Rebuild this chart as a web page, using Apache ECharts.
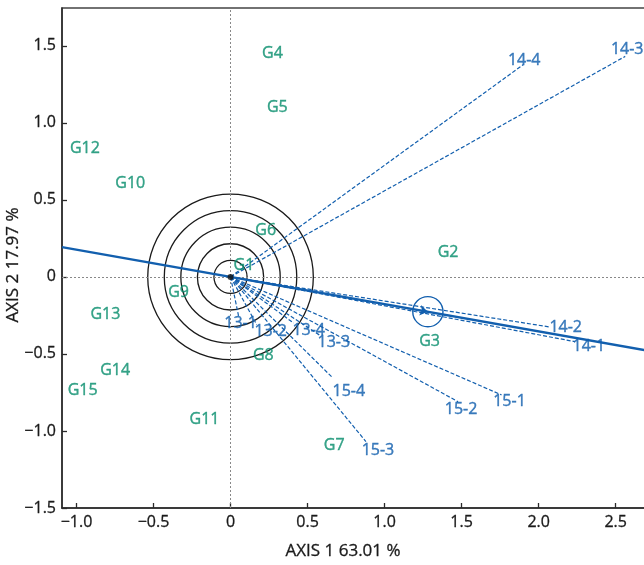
<!DOCTYPE html>
<html><head><meta charset="utf-8">
<script src="https://cdn.jsdelivr.net/npm/echarts@6/dist/echarts.min.js"></script>
<style>html,body{margin:0;padding:0;background:#fff}#c{width:644px;height:565px}</style>
</head><body><div id="c"></div>
<script>
// ---- data ----
const genotypes = ['G1','G2','G3','G4','G5','G6','G7','G8','G9','G10','G11','G12','G13','G14','G15'];
const genoX = [0.087, 1.412, 1.292, 0.272, 0.304, 0.228, 0.673, 0.213, -0.337, -0.651, -0.169, -0.945, -0.812, -0.749, -0.960];
const genoY = [0.071, 0.160, -0.420, 1.453, 1.099, 0.301, -1.091, -0.511, -0.102, 0.604, -0.922, 0.831, -0.242, -0.604, -0.740];

const environments = ['14-1','14-2','14-3','14-4','13-1','13-2','13-3','13-4','15-1','15-2','15-3','15-4'];
const envX = [2.235, 2.072, 2.562, 1.900, 0.052, 0.170, 0.586, 0.410, 1.759, 1.477, 0.879, 0.664];
const envY = [-0.420, -0.325, 1.431, 1.377, -0.253, -0.310, -0.383, -0.300, -0.766, -0.810, -1.069, -0.656];

const aeaLine = [[-1.094, 0.193], [2.697, -0.477]];
const aeaPoint = [1.281, -0.226];
const aeaCircleRadius = [0.098];
const concentricRadii = [0.1075, 0.215, 0.3225, 0.43, 0.5375];

const xTicks = [-1, -0.5, 0, 0.5, 1, 1.5, 2, 2.5];
const yTicks = [-1.5, -1, -0.5, 0, 0.5, 1, 1.5];
const xName = 'AXIS 1 63.01 %';
const yName = 'AXIS 2 17.97 %';

// ---- layout (label nudges in px, not data) ----
const envLabelNudge = [[14,5],[16,0],[2,-7],[1,-4],[2,8],[14,7],[13,7],[15,7],[8,7],[3,8],[12,9],[16,13]];

const FONT = '"Open Sans", sans-serif';
const GREEN = '#0a8f6e';
const BLUE = '#125fae';
const AXC = '#2a2a2a';
const TXT = '#1a1a1a';

const fmt = v => v === 0 ? '0' : (v < 0 ? '\u2212' : '') + Math.abs(v).toFixed(1);

function circleSeries(radii, center, color, width) {
  return {
    type: 'custom', silent: true, clip: true,
    data: radii.map(r => [center[0], center[1], r]),
    encode: {x: 0, y: 1},
    renderItem: (params, api) => {
      const c = api.coord([api.value(0), api.value(1)]);
      const r = api.size([api.value(2), 0])[0];
      return {type: 'circle', shape: {cx: c[0], cy: c[1], r: r},
              style: {fill: 'none', stroke: color, lineWidth: width}};
    },
    z: 3
  };
}

const chart = echarts.init(document.getElementById('c'), null, {renderer: 'canvas'});
chart.setOption({
  animation: false,
  grid: {left: 62, right: -2, top: 8, bottom: 57, show: true, borderColor: '#444', borderWidth: 1.5,
         containLabel: false, outerBoundsMode: 'none'},
  xAxis: {
    type: 'value', min: -1.094, max: 2.697,
    name: xName, nameLocation: 'middle', nameGap: 35,
    nameTextStyle: {fontFamily: FONT, fontSize: 17, color: TXT, padding: [0, 22, 0, 0],
                    textBorderColor: TXT, textBorderWidth: 0.3},
    axisLine: {onZero: false, lineStyle: {color: AXC, width: 1.5}},
    axisTick: {inside: true, length: 5, customValues: xTicks, lineStyle: {color: AXC, width: 1.3}},
    axisLabel: {customValues: xTicks, formatter: fmt, fontFamily: FONT, fontSize: 16, color: TXT, margin: 6,
                textBorderColor: TXT, textBorderWidth: 0.3},
    splitLine: {show: false}
  },
  yAxis: {
    type: 'value', min: -1.5, max: 1.745,
    name: yName, nameLocation: 'middle', nameGap: 40, nameMoveOverlap: false,
    nameTextStyle: {fontFamily: FONT, fontSize: 17, color: TXT, padding: [0, 14, 0, 0],
                    textBorderColor: TXT, textBorderWidth: 0.3},
    axisLine: {onZero: false, lineStyle: {color: AXC, width: 1.5}},
    axisTick: {inside: true, length: 5, customValues: yTicks, lineStyle: {color: AXC, width: 1.3}},
    axisLabel: {customValues: yTicks, formatter: fmt, fontFamily: FONT, fontSize: 16, color: TXT, margin: 6,
                textBorderColor: TXT, textBorderWidth: 0.3},
    splitLine: {show: false}
  },
  series: [
    {
      type: 'line', data: [], silent: true,
      markLine: {
        silent: true, symbol: 'none', label: {show: false},
        lineStyle: {color: '#888', type: [2, 2], width: 1},
        data: [{xAxis: 0}, {yAxis: 0}]
      }
    },
    circleSeries(concentricRadii, [0, 0], '#1a1a1a', 1.3),
    {
      type: 'lines', coordinateSystem: 'cartesian2d', silent: true, z: 4,
      lineStyle: {color: BLUE, width: 1.2, type: [4, 2], opacity: 1},
      data: envX.map((x, i) => ({coords: [[0, 0], [x, envY[i]]]}))
    },
    {
      type: 'line', data: aeaLine, symbol: 'none', silent: true, z: 5,
      lineStyle: {color: BLUE, width: 2.4}
    },
    circleSeries(aeaCircleRadius, aeaPoint, BLUE, 1.4),
    {
      type: 'lines', coordinateSystem: 'cartesian2d', silent: true, z: 6,
      symbol: ['none', 'arrow'], symbolSize: 8,
      lineStyle: {color: BLUE, width: 1.4, opacity: 1},
      data: [{coords: [[aeaPoint[0] - 0.06, aeaPoint[1] + 0.0106], aeaPoint]}]
    },
    {
      type: 'scatter', data: [[0, 0]], symbolSize: 6, silent: true, z: 7,
      itemStyle: {color: '#111'}
    },
    {
      type: 'scatter', silent: true, z: 8, symbolSize: 1,
      itemStyle: {color: 'rgba(0,0,0,0)'},
      data: genotypes.map((g, i) => ({name: g, value: [genoX[i], genoY[i]]})),
      label: {show: true, position: 'inside', formatter: '{b}', color: GREEN, fontFamily: FONT, fontSize: 16,
              textBorderColor: GREEN, textBorderWidth: 0.4}
    },
    {
      type: 'scatter', silent: true, z: 8, symbolSize: 1,
      itemStyle: {color: 'rgba(0,0,0,0)'},
      data: environments.map((e, i) => ({name: e, value: [envX[i], envY[i]],
        label: {offset: envLabelNudge[i]}})),
      label: {show: true, position: 'inside', formatter: '{b}', color: BLUE, fontFamily: FONT, fontSize: 16,
              textBorderColor: BLUE, textBorderWidth: 0.4}
    }
  ]
});
</script>
</body></html>
